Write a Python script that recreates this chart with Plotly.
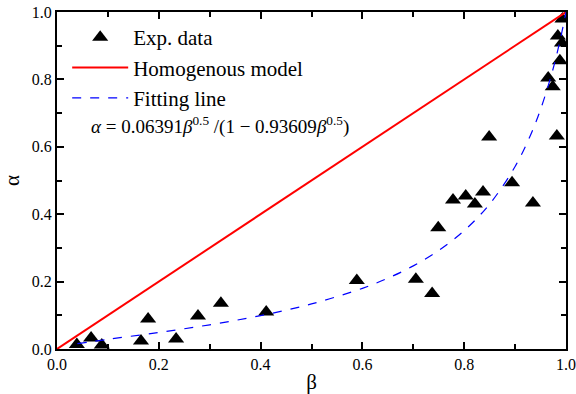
import plotly.graph_objects as go

beta_exp = [0.039, 0.067, 0.088, 0.165, 0.179, 0.234, 0.277, 0.322, 0.411, 0.589,
            0.705, 0.737, 0.749, 0.778, 0.803, 0.821, 0.837, 0.849, 0.894, 0.935,
            0.965, 0.974, 0.982, 0.984, 0.988, 0.992, 0.993]
alpha_exp = [0.013, 0.033, 0.012, 0.024, 0.089, 0.030, 0.098, 0.136, 0.110, 0.203,
             0.207, 0.165, 0.360, 0.442, 0.454, 0.430, 0.466, 0.629, 0.493, 0.433,
             0.804, 0.778, 0.632, 0.929, 0.855, 0.908, 0.979]

# Homogenous model line
beta_hom = [0.0, 1.0]
alpha_hom = [0.0, 1.0]

# Fitting line
beta_fit = [0.04, 0.1, 0.2, 0.3, 0.4, 0.5, 0.6, 0.65, 0.7, 0.75, 0.8, 0.85,
            0.9, 0.93, 0.95, 0.97, 0.98, 0.99, 1.0]
alpha_fit = [0.0157, 0.0287, 0.0492, 0.0718, 0.0991, 0.1337, 0.1801, 0.2101,
             0.2466, 0.2923, 0.3513, 0.4302, 0.5416, 0.6337, 0.7110, 0.8065,
             0.8629, 0.9270, 1.0]

tick_vals = [0.0, 0.2, 0.4, 0.6, 0.8, 1.0]
tick_text = ["0.0", "0.2", "0.4", "0.6", "0.8", "1.0"]

FONT = "Liberation Serif"

fig = go.Figure()
fig.add_trace(go.Scatter(x=beta_exp, y=alpha_exp, mode="markers", name="Exp. data",
                         legendgroup="a",
                         marker=dict(symbol="triangle-up", size=14, color="black")))
fig.add_trace(go.Scatter(x=beta_hom, y=alpha_hom, mode="lines", name="Homogenous model",
                         legendgroup="b",
                         line=dict(color="#ff0000", width=2)))
fig.add_trace(go.Scatter(x=beta_fit, y=alpha_fit, mode="lines", name="Fitting line",
                         legendgroup="c",
                         line=dict(color="#0000ff", width=1.2, dash="dash", shape="spline")))

axis_common = dict(
    range=[0, 1], tickvals=tick_vals, ticktext=tick_text,
    ticks="inside", ticklen=7, tickwidth=1.5, tickcolor="black",
    minor=dict(dtick=0.1, ticks="inside", ticklen=5, tickwidth=1.5, tickcolor="black"),
    showline=True, linecolor="black", linewidth=2, mirror="ticks",
    showgrid=False, zeroline=False, automargin=False, ticklabeloverflow="allow",
    tickfont=dict(family=FONT, size=16, color="black"),
)

fig.update_xaxes(**axis_common, title=dict(text="β", font=dict(family=FONT, size=21, color="black"), standoff=6))
fig.update_yaxes(**axis_common, title=dict(text="α", font=dict(family=FONT, size=21, color="black"), standoff=14))

fig.add_annotation(
    xref="paper", yref="paper", x=0.062, y=0.662, xanchor="left", yanchor="middle",
    text="<i>α</i> = 0.06391<i>β</i><sup>0.5</sup> /(1 − 0.93609<i>β</i><sup>0.5</sup>)",
    showarrow=False, font=dict(family=FONT, size=19, color="black"),
)

fig.update_layout(
    width=576, height=394,
    margin=dict(l=57, r=10, t=12, b=45),
    paper_bgcolor="white", plot_bgcolor="white",
    font=dict(family=FONT, color="black"),
    legend=dict(x=0.02, y=0.985, xanchor="left", yanchor="top",
                font=dict(family=FONT, size=21, color="black"),
                bgcolor="rgba(0,0,0,0)", itemwidth=56, tracegroupgap=0),
)

fig.write_html("out.html",
               config={"displayModeBar": False},
               post_script="document.body.style.margin='0';document.body.style.overflow='hidden';")
